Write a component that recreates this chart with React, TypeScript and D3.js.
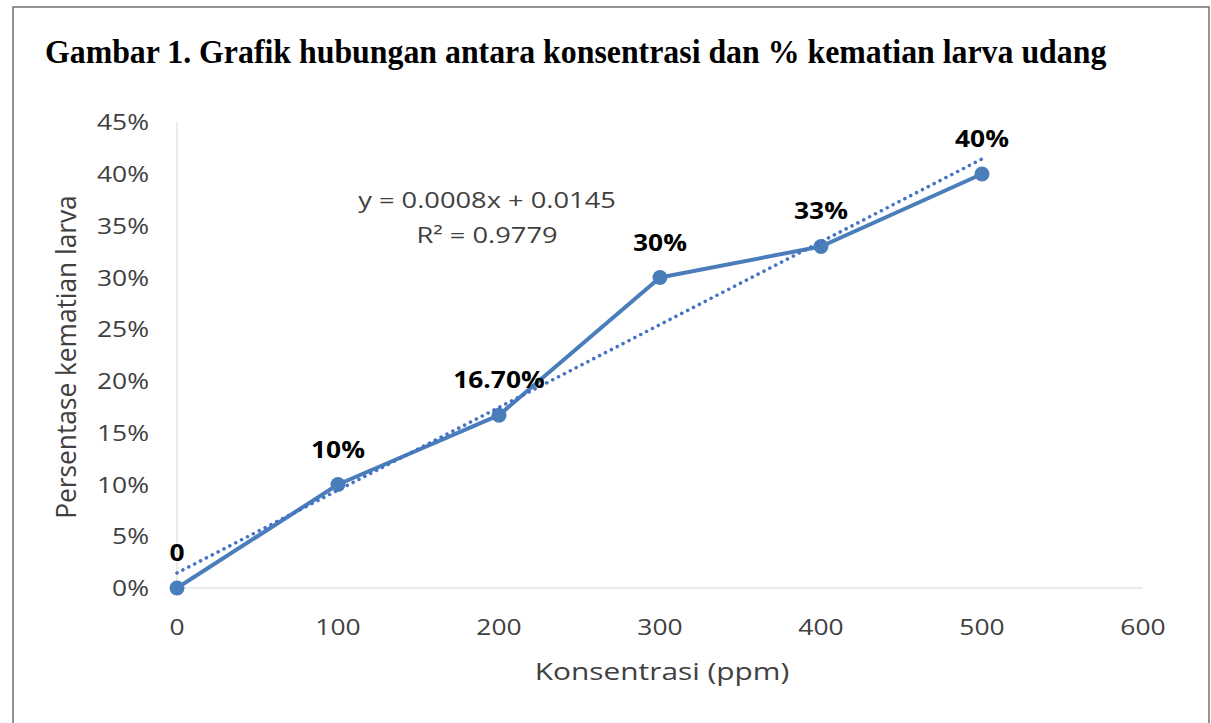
import * as d3 from "d3";

const width = 1211;
const height = 723;

const konsentrasi = [0, 100, 200, 300, 400, 500];
const kematian = [0, 0.1, 0.167, 0.3, 0.33, 0.4];
const dataLabels = ["0", "10%", "16.70%", "30%", "33%", "40%"];
const xTicks = [0, 100, 200, 300, 400, 500, 600];
const yTicks = [0, 0.05, 0.1, 0.15, 0.2, 0.25, 0.3, 0.35, 0.4, 0.45];
const slope = 0.0008;
const intercept = 0.0145;

const sans = "'Open Sans', 'Noto Sans', sans-serif";

// text stretched horizontally, the source picture is a bit wide
function T({ x, y, sx = 1, sy = 1, rot = 0, anchor = "middle", size, weight = "normal", fill = "#404040", family = sans, children }: any) {
  return (
    <text
      transform={`translate(${x},${y}) rotate(${rot}) scale(${sx},${sy})`}
      textAnchor={anchor}
      fontFamily={family}
      fontSize={size}
      fontWeight={weight}
      fill={fill}
    >
      {children}
    </text>
  );
}

export default function App() {
  const x = d3.scaleLinear().domain([0, 600]).range([177, 1143]);
  const y = d3.scaleLinear().domain([0, 0.4]).range([588, 174]);

  const points = konsentrasi.map((k, i) => ({ k, v: kematian[i], label: dataLabels[i] }));
  const line = d3
    .line<{ k: number; v: number }>()
    .x((d) => x(d.k))
    .y((d) => y(d.v));

  const trend = [0, 500].map((k) => ({ k, v: slope * k + intercept }));

  return (
    <svg
      width={width}
      height={height}
      style={{ position: "fixed", left: 0, top: 0, background: "white" }}
    >
      {/* frame */}
      <path d={`M13,${height} V7 H1209 V${height}`} fill="none" stroke="#707070" strokeWidth={1.5} />

      <T
        x={45}
        y={63}
        sx={0.965}
        anchor="start"
        size={33}
        weight="bold"
        fill="#000"
        family="'Liberation Serif', 'Times New Roman', serif"
      >
        Gambar 1. Grafik hubungan antara konsentrasi dan % kematian larva udang
      </T>

      {/* axes */}
      <line x1={x(0)} x2={x(600)} y1={y(0)} y2={y(0)} stroke="#e4e4e4" strokeWidth={1.5} />
      <line x1={x(0)} x2={x(0)} y1={y(0)} y2={y(0.45)} stroke="#e4e4e4" strokeWidth={1.5} />

      {yTicks.map((t) => (
        <T key={t} x={149} y={y(t) + 8} sx={1.2} anchor="end" size={22}>
          {d3.format(".0%")(t)}
        </T>
      ))}
      {xTicks.map((t) => (
        <T key={t} x={x(t)} y={635} sx={1.2} size={22}>
          {t}
        </T>
      ))}

      <T x={662} y={680} sx={1.27} size={23.5}>
        Konsentrasi (ppm)
      </T>
      <T x={76} y={357} rot={-90} sx={1.095} sy={1.17} size={24}>
        Persentase kematian larva
      </T>

      {/* series */}
      <path d={line(points) ?? ""} fill="none" stroke="#4A7EBB" strokeWidth={4} strokeLinejoin="round" />
      {points.map((d) => (
        <circle key={d.k} cx={x(d.k)} cy={y(d.v)} r={7.5} fill="#4A7EBB" />
      ))}

      {/* trendline */}
      <path
        d={line(trend) ?? ""}
        fill="none"
        stroke="#4472C4"
        strokeWidth={3.5}
        strokeDasharray="0.1 6.5"
        strokeLinecap="round"
      />

      {points.map((d) => (
        <T key={d.k} x={x(d.k)} y={y(d.v) - 27} sx={1.1} size={24} weight="bold" fill="#000">
          {d.label}
        </T>
      ))}

      <T x={487} y={208} sx={1.24} size={22}>
        y = 0.0008x + 0.0145
      </T>
      <T x={487} y={243} sx={1.24} size={22}>
        R² = 0.9779
      </T>
    </svg>
  );
}
